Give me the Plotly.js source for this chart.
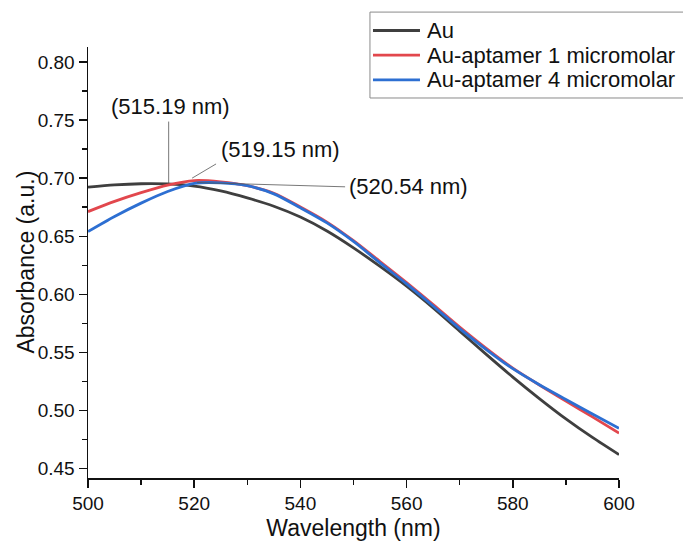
<!DOCTYPE html>
<html>
<head>
<meta charset="utf-8">
<script src="https://cdn.plot.ly/plotly-3.0.1.min.js"></script>
<style>html,body{margin:0;padding:0;background:#fff;}#chart{width:683px;height:544px;}</style>
</head>
<body>
<div id="chart"></div>
<script>
// Wavelength (nm)
const wavelength = [500, 505, 510, 515, 520, 525, 530, 535, 540, 545, 550, 555, 560, 565, 570, 575, 580, 585, 590, 595, 600];
// Absorbance (a.u.)
const au        = [0.6922, 0.6942, 0.6952, 0.6950, 0.6932, 0.6890, 0.6830, 0.6758, 0.6665, 0.6545, 0.6400, 0.6240, 0.6070, 0.5883, 0.5683, 0.5483, 0.5288, 0.5103, 0.4928, 0.4768, 0.4620];
const apt1      = [0.6712, 0.6800, 0.6875, 0.6940, 0.6979, 0.6968, 0.6935, 0.6870, 0.6752, 0.6622, 0.6462, 0.6282, 0.6100, 0.5912, 0.5718, 0.5535, 0.5365, 0.5220, 0.5082, 0.4945, 0.4805];
const apt4      = [0.6540, 0.6670, 0.6785, 0.6885, 0.6955, 0.6960, 0.6935, 0.6865, 0.6745, 0.6615, 0.6455, 0.6270, 0.6090, 0.5900, 0.5705, 0.5525, 0.5360, 0.5222, 0.5095, 0.4970, 0.4847];
const seriesNames = ['Au', 'Au-aptamer 1 micromolar', 'Au-aptamer 4 micromolar'];
const xTitle = 'Wavelength (nm)';
const yTitle = 'Absorbance (a.u.)';

// Peak annotations
const peakLabels = ['(515.19 nm)', '(519.15 nm)', '(520.54 nm)'];
const peakX      = [515.19, 519.6, 520.54];
const peakY      = [0.6958, 0.7000, 0.6962];
const leaderEndX = [515.19, 524.4, 548.7];
const leaderEndY = [0.7500, 0.7130, 0.6925];
const labelX     = [515.6, 536.2, 560.3];
const labelY     = [0.7615, 0.7244, 0.6925];

const colors = ['#3f3f3f', '#e2474d', '#2d6fd2'];
const FONT = 'Liberation Sans, Arial, sans-serif';

const traces = [au, apt1, apt4].map((ys, i) => ({
  x: wavelength, y: ys, type: 'scatter', mode: 'lines', name: seriesNames[i],
  showlegend: false,
  line: {color: colors[i], width: 2.8, shape: 'spline', smoothing: 0.8}
}));

const annotations = [];
const shapes = [];
for (let i = 0; i < peakLabels.length; i++) {
  annotations.push({
    x: peakX[i], y: peakY[i], xref: 'x', yref: 'y',
    ax: leaderEndX[i], ay: leaderEndY[i], axref: 'x', ayref: 'y',
    text: '', showarrow: true, arrowhead: 0, arrowwidth: 0.8, arrowcolor: '#555', standoff: 0
  });
  annotations.push({
    x: labelX[i], y: labelY[i], xref: 'x', yref: 'y', text: peakLabels[i],
    showarrow: false, font: {family: FONT, size: 22, color: '#111'}
  });
}

// Legend box (drawn by hand to match the original frame)
const legX0 = 0.531, legX1 = 1.14, legY0 = 0.8817, legY1 = 1.081;
const legRowY = [1.0383, 0.9810, 0.9237];
const legLineX0 = 0.5367, legLineX1 = 0.6252, legTextX = 0.6347;
shapes.push({type: 'rect', xref: 'paper', yref: 'paper', x0: legX0, x1: legX1, y0: legY0, y1: legY1,
  line: {color: '#8a8a8a', width: 1}, fillcolor: '#fff', layer: 'above'});
seriesNames.forEach((nm, i) => {
  shapes.push({type: 'line', xref: 'paper', yref: 'paper', x0: legLineX0, x1: legLineX1, y0: legRowY[i], y1: legRowY[i],
    line: {color: colors[i], width: 2.8}, layer: 'above'});
  annotations.push({xref: 'paper', yref: 'paper', x: legTextX, y: legRowY[i], xanchor: 'left', yanchor: 'middle',
    text: nm, showarrow: false, font: {family: FONT, size: 22, color: '#111'}});
});

// Y axis title placed as a rotated annotation (closer to the tick labels than Plotly allows)
annotations.push({xref: 'paper', yref: 'paper', x: -0.1186, y: 0.5, xanchor: 'center', yanchor: 'middle',
  textangle: -90, text: yTitle, showarrow: false, font: {family: FONT, size: 23, color: '#111'}});

const layout = {
  width: 683, height: 544,
  margin: {l: 88, r: 64, t: 47, b: 66, pad: 0},
  paper_bgcolor: '#fff', plot_bgcolor: '#fff',
  font: {family: FONT, color: '#111'},
  showlegend: false,
  xaxis: {
    range: [500, 600], dtick: 20, tick0: 500,
    showgrid: false, zeroline: false,
    showline: true, linecolor: '#111', linewidth: 1.5, mirror: false,
    ticks: 'outside', ticklen: 8, tickwidth: 1.5, tickcolor: '#111',
    tickfont: {family: FONT, size: 19, color: '#111'},
    minor: {dtick: 10, ticks: 'outside', ticklen: 5, tickwidth: 1.5, tickcolor: '#111', showgrid: false},
    title: {text: xTitle, font: {family: FONT, size: 23, color: '#111'}, standoff: 6}
  },
  yaxis: {
    range: [0.4419, 0.8129], dtick: 0.05, tick0: 0.45, tickformat: '.2f',
    showgrid: false, zeroline: false,
    showline: true, linecolor: '#111', linewidth: 1.5, mirror: false,
    ticks: 'outside', ticklen: 8, tickwidth: 1.5, tickcolor: '#111',
    tickfont: {family: FONT, size: 19, color: '#111'},
    minor: {dtick: 0.025, ticks: 'outside', ticklen: 5, tickwidth: 1.5, tickcolor: '#111', showgrid: false}
  },
  shapes: shapes,
  annotations: annotations
};

Plotly.newPlot('chart', traces, layout, {displayModeBar: false, staticPlot: true});
</script>
</body>
</html>
